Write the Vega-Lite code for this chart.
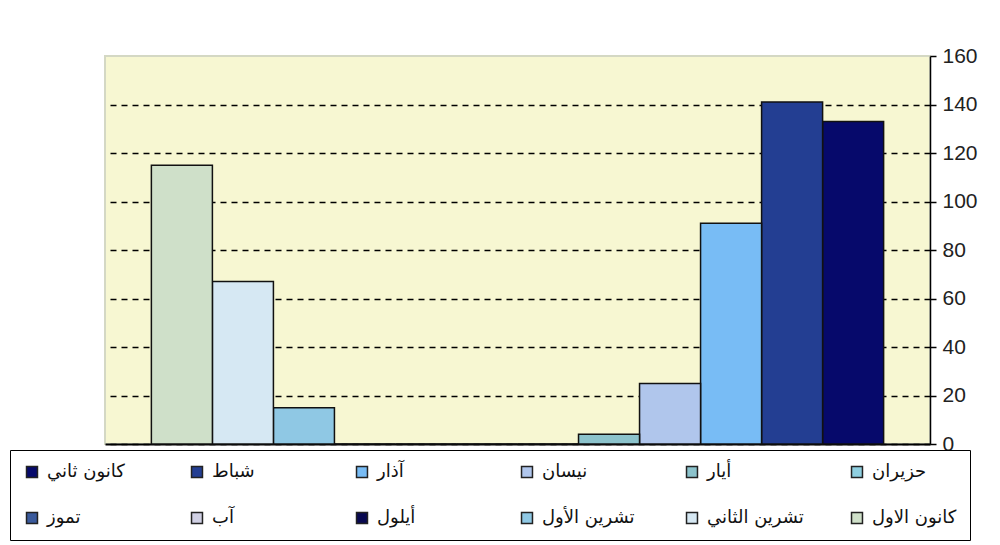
{
  "$schema": "https://vega.github.io/schema/vega-lite/v6.json",
  "width": 825,
  "height": 388,
  "autosize": "none",
  "padding": {"left": 105, "top": 56, "right": 70, "bottom": 101},
  "background": "white",
  "config": {"view": {"fill": "#f7f7d2", "stroke": "#d4d8c4", "strokeWidth": 2}},
  "data": {"values": [
    {"month": "كانون ثاني", "value": 133},
    {"month": "شباط", "value": 141},
    {"month": "آذار", "value": 91},
    {"month": "نيسان", "value": 25},
    {"month": "أيار", "value": 4},
    {"month": "حزيران", "value": 0},
    {"month": "تموز", "value": 0},
    {"month": "آب", "value": 0},
    {"month": "أيلول", "value": 0},
    {"month": "تشرين الأول", "value": 15},
    {"month": "تشرين الثاني", "value": 67},
    {"month": "كانون الاول", "value": 115}
  ]},
  "mark": {"type": "bar", "stroke": "#111111", "strokeWidth": 1.5},
  "encoding": {
    "x": {
      "field": "month", "type": "nominal",
      "sort": ["كانون الاول", "تشرين الثاني", "تشرين الأول", "أيلول", "آب", "تموز", "حزيران", "أيار", "نيسان", "آذار", "شباط", "كانون ثاني"],
      "scale": {"paddingInner": 0, "paddingOuter": 0.76},
      "axis": {"labels": false, "ticks": false, "title": null, "domainColor": "black", "domainWidth": 2, "grid": false}
    },
    "y": {
      "field": "value", "type": "quantitative",
      "scale": {"domain": [0, 160]},
      "axis": {
        "orient": "right", "values": [0, 20, 40, 60, 80, 100, 120, 140, 160], "title": null,
        "grid": true, "gridColor": "black", "gridDash": [6, 5], "gridWidth": 1.5,
        "gridOpacity": {"condition": {"test": "datum.value == 160", "value": 0}, "value": 1},
        "domainColor": "black", "domainWidth": 1.5, "tickColor": "black", "tickSize": 6, "tickWidth": 1.5,
        "labelFont": "Liberation Sans", "labelFontSize": 21, "labelColor": "#222222", "labelPadding": 6
      }
    },
    "color": {
      "field": "month", "type": "nominal",
      "scale": {
        "domain": ["كانون ثاني", "شباط", "آذار", "نيسان", "أيار", "حزيران", "تموز", "آب", "أيلول", "تشرين الأول", "تشرين الثاني", "كانون الاول"],
        "range": ["#06096b", "#233e92", "#78bcf5", "#b0c6ec", "#8cc3cc", "#8fcfe0", "#3a5a9c", "#d0d0e4", "#080850", "#8fc8e4", "#d6e8f3", "#cfe0c9"]
      },
      "legend": {
        "orient": "none", "legendX": -95, "legendY": 394,
        "direction": "horizontal", "columns": 6, "title": null,
        "symbolType": "square", "symbolSize": 120, "symbolStrokeColor": "#222222", "symbolStrokeWidth": 1.5,
        "labelFont": "DejaVu Sans", "labelFontSize": 18, "labelColor": "#111111", "labelOffset": 6,
        "strokeColor": "black", "fillColor": "white", "padding": 13,
        "rowPadding": 28, "columnPadding": 44, "gridAlign": "all", "labelLimit": 200
      }
    }
  }
}
